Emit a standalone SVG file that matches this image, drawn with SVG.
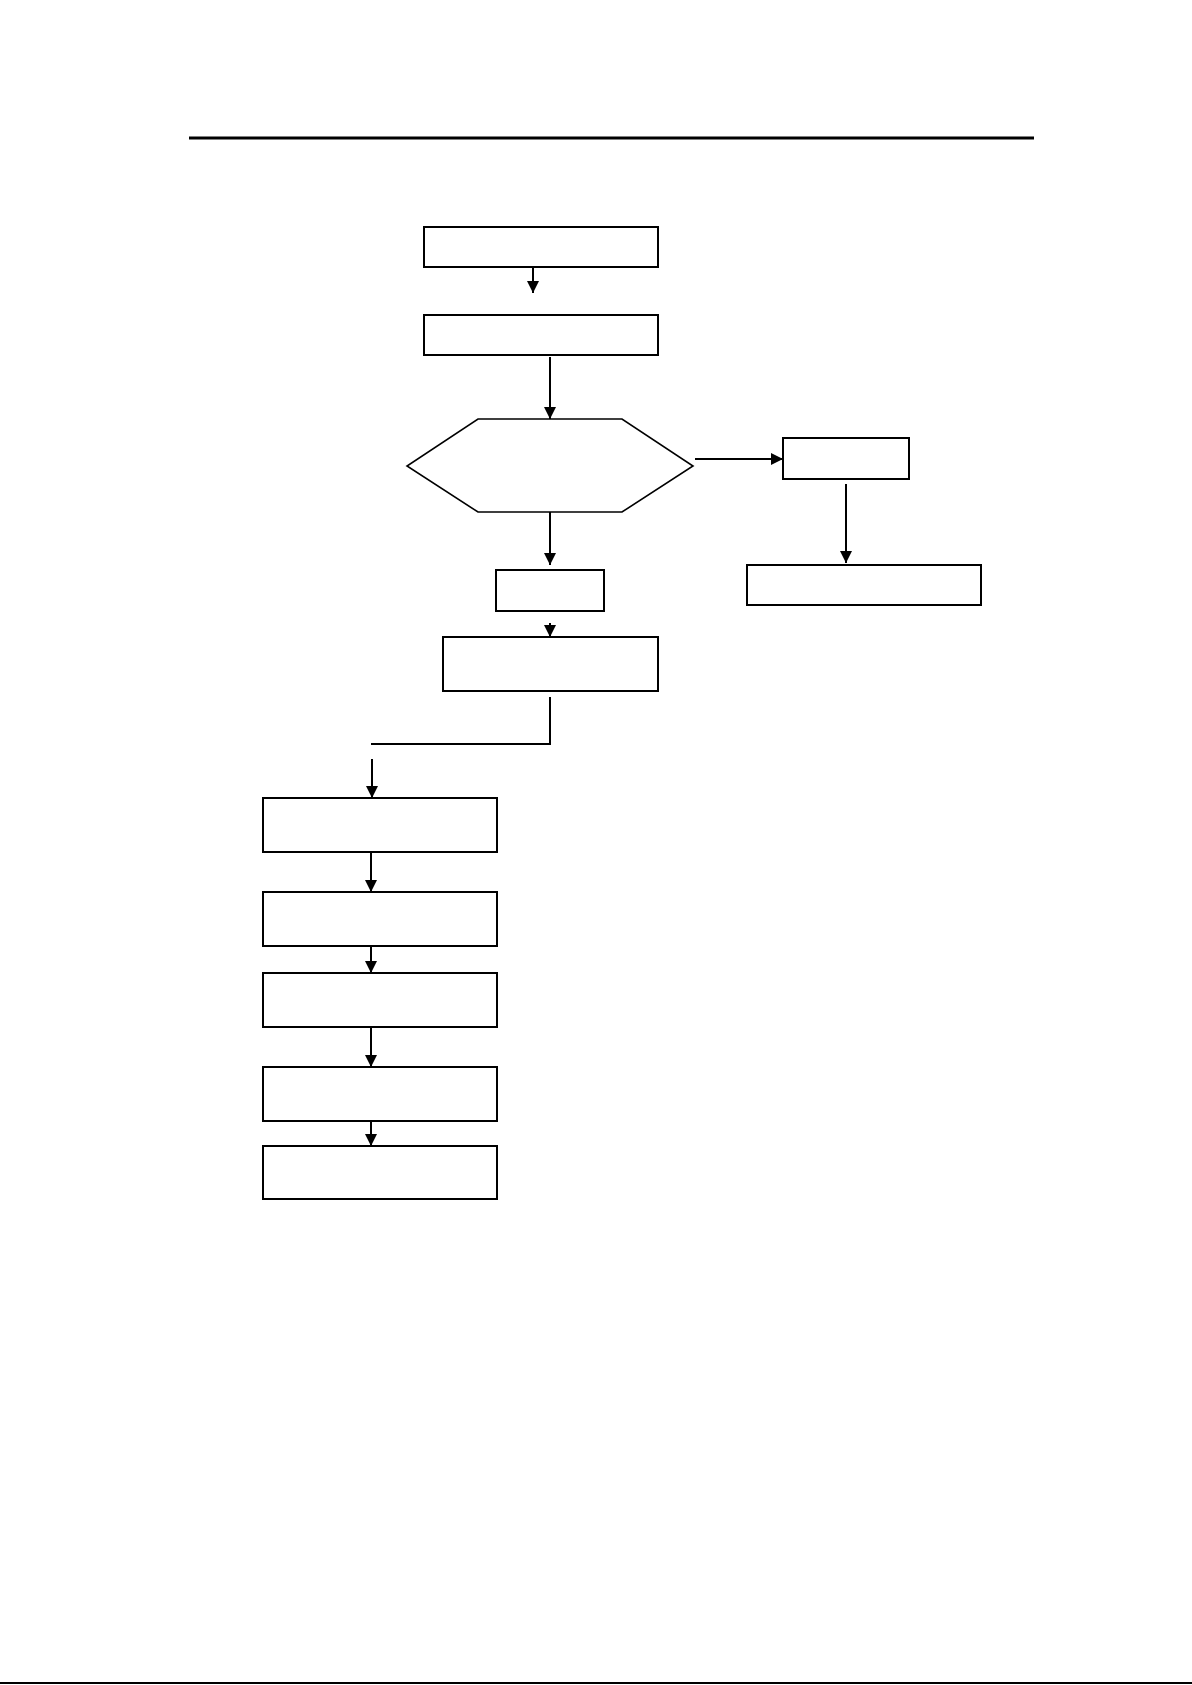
<svg xmlns="http://www.w3.org/2000/svg" width="1192" height="1685" viewBox="0 0 1192 1685">
<style>
.box{fill:#fff;stroke:#000;stroke-width:2}
.hex{fill:#fff;stroke:#000;stroke-width:1.6}
.con{fill:none;stroke:#000;stroke-width:2}
</style>
<defs>
<marker id="arr" markerUnits="userSpaceOnUse" markerWidth="12" markerHeight="12" refX="12" refY="6" orient="auto" viewBox="0 0 12 12">
<path d="M0,0 L12,6 L0,12 Z" fill="#000"/>
</marker>
</defs>
<rect width="1192" height="1685" fill="#fff"/>
<line x1="189" y1="138" x2="1034" y2="138" stroke="#000" stroke-width="3"/>
<line x1="0" y1="1683" x2="1192" y2="1683" stroke="#000" stroke-width="2"/>
<g id="connectors">
<line class="con" x1="533" y1="267" x2="533" y2="293" marker-end="url(#arr)"/>
<line class="con" x1="550" y1="357" x2="550" y2="419" marker-end="url(#arr)"/>
<line class="con" x1="695" y1="459" x2="783" y2="459" marker-end="url(#arr)"/>
<line class="con" x1="846" y1="484" x2="846" y2="563" marker-end="url(#arr)"/>
<line class="con" x1="550" y1="512" x2="550" y2="565" marker-end="url(#arr)"/>
<line class="con" x1="550" y1="623" x2="550" y2="637" marker-end="url(#arr)"/>
<polyline class="con" points="550,697 550,744 371,744"/>
<line class="con" x1="372" y1="759" x2="372" y2="798" marker-end="url(#arr)"/>
<line class="con" x1="371" y1="852" x2="371" y2="892" marker-end="url(#arr)"/>
<line class="con" x1="371" y1="946" x2="371" y2="973" marker-end="url(#arr)"/>
<line class="con" x1="371" y1="1027" x2="371" y2="1067" marker-end="url(#arr)"/>
<line class="con" x1="371" y1="1120" x2="371" y2="1146" marker-end="url(#arr)"/>
</g>
<g id="n1"><rect class="box" x="424" y="227" width="234" height="40"/></g>
<g id="n2"><rect class="box" x="424" y="315" width="234" height="40"/></g>
<g id="n3"><polygon class="hex" points="478,419 622,419 693,466 622,512 478,512 407,466"/></g>
<g id="n4"><rect class="box" x="783" y="438" width="126" height="41"/></g>
<g id="n5"><rect class="box" x="747" y="565" width="234" height="40"/></g>
<g id="n6"><rect class="box" x="496" y="570" width="108" height="41"/></g>
<g id="n7"><rect class="box" x="443" y="637" width="215" height="54"/></g>
<g id="n8"><rect class="box" x="263" y="798" width="234" height="54"/></g>
<g id="n9"><rect class="box" x="263" y="892" width="234" height="54"/></g>
<g id="n10"><rect class="box" x="263" y="973" width="234" height="54"/></g>
<g id="n11"><rect class="box" x="263" y="1067" width="234" height="54"/></g>
<g id="n12"><rect class="box" x="263" y="1146" width="234" height="53"/></g>
</svg>
